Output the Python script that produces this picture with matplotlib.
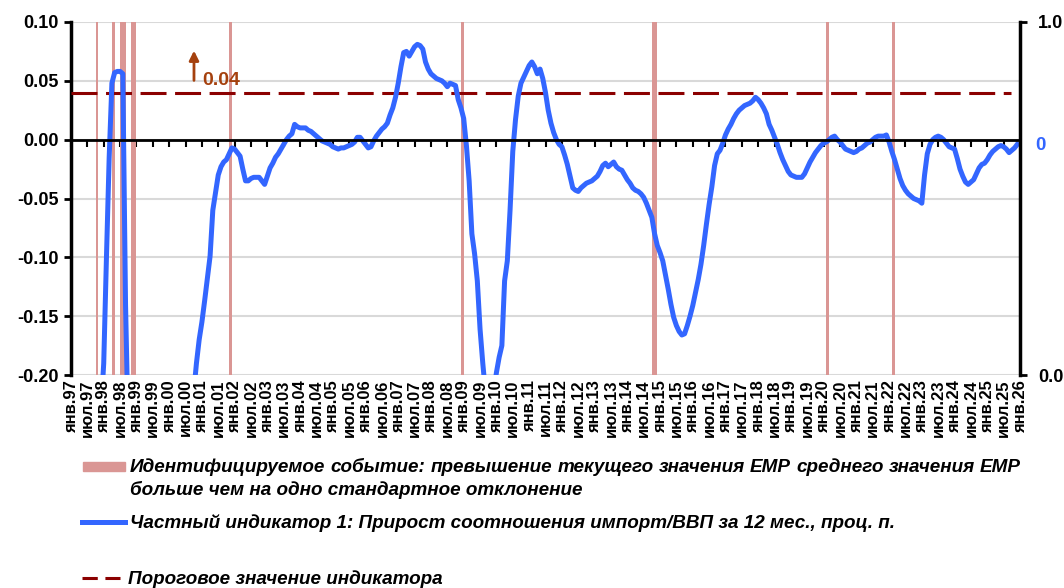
import matplotlib
matplotlib.use('Agg')
import matplotlib.pyplot as plt
from matplotlib.lines import Line2D
from matplotlib.patches import Rectangle

plt.rcParams['font.family'] = ['Liberation Sans', 'DejaVu Sans']
plt.rcParams['axes.unicode_minus'] = False

# monthly values, Jan 1997 .. Dec 2025 (one row per year)
imp_gdp = [
    -0.30, -0.30, -0.31, -0.31, -0.32, -0.32, -0.31, -0.30, -0.29, -0.28, -0.26, -0.23,  # 1997
    -0.19, -0.10, -0.015, 0.048, 0.057, 0.058, 0.058, 0.056, -0.14, -0.25, -0.30, -0.32,  # 1998
    -0.33, -0.34, -0.34, -0.35, -0.35, -0.35, -0.34, -0.34, -0.33, -0.33, -0.32, -0.32,  # 1999
    -0.31, -0.30, -0.29, -0.28, -0.27, -0.26, -0.25, -0.24, -0.23, -0.215, -0.19, -0.17,  # 2000
    -0.155, -0.137, -0.118, -0.099, -0.06, -0.045, -0.03, -0.023, -0.019, -0.017, -0.012, -0.007,  # 2001
    -0.008, -0.011, -0.014, -0.025, -0.035, -0.035, -0.033, -0.032, -0.032, -0.032, -0.035, -0.038,  # 2002
    -0.031, -0.024, -0.020, -0.015, -0.012, -0.008, -0.004, 0.000, 0.003, 0.005, 0.013, 0.011,  # 2003
    0.010, 0.010, 0.010, 0.008, 0.007, 0.005, 0.003, 0.001, -0.001, -0.002, -0.003, -0.004,  # 2004
    -0.006, -0.007, -0.008, -0.007, -0.007, -0.006, -0.005, -0.004, -0.002, 0.002, 0.002, -0.001,  # 2005
    -0.004, -0.007, -0.006, -0.001, 0.003, 0.006, 0.009, 0.011, 0.014, 0.021, 0.027, 0.036,  # 2006
    0.048, 0.062, 0.074, 0.075, 0.071, 0.075, 0.079, 0.081, 0.080, 0.077, 0.066, 0.060,  # 2007
    0.056, 0.054, 0.052, 0.051, 0.050, 0.048, 0.045, 0.048, 0.047, 0.046, 0.034, 0.027,  # 2008
    0.018, -0.005, -0.035, -0.080, -0.097, -0.120, -0.161, -0.190, -0.215, -0.230, -0.230, -0.215,  # 2009
    -0.198, -0.185, -0.175, -0.120, -0.103, -0.060, -0.010, 0.017, 0.037, 0.048, 0.053, 0.058,  # 2010
    0.063, 0.066, 0.062, 0.056, 0.060, 0.052, 0.040, 0.025, 0.014, 0.006, 0.000, -0.004,  # 2011
    -0.006, -0.013, -0.021, -0.031, -0.041, -0.043, -0.044, -0.041, -0.039, -0.037, -0.036, -0.035,  # 2012
    -0.033, -0.031, -0.027, -0.022, -0.020, -0.023, -0.021, -0.019, -0.023, -0.025, -0.026, -0.030,  # 2013
    -0.034, -0.037, -0.041, -0.043, -0.044, -0.046, -0.049, -0.054, -0.060, -0.066, -0.080, -0.090,  # 2014
    -0.096, -0.103, -0.115, -0.127, -0.140, -0.151, -0.158, -0.163, -0.166, -0.165, -0.158, -0.150,  # 2015
    -0.141, -0.130, -0.119, -0.106, -0.090, -0.072, -0.055, -0.040, -0.022, -0.012, -0.009, -0.003,  # 2016
    0.004, 0.009, 0.013, 0.018, 0.022, 0.025, 0.027, 0.029, 0.030, 0.031, 0.033, 0.036,  # 2017
    0.034, 0.031, 0.027, 0.022, 0.013, 0.008, 0.002, -0.004, -0.011, -0.017, -0.022, -0.027,  # 2018
    -0.030, -0.031, -0.032, -0.032, -0.032, -0.029, -0.024, -0.019, -0.015, -0.011, -0.008, -0.005,  # 2019
    -0.003, -0.002, 0.000, 0.002, 0.003, 0.000, -0.002, -0.005, -0.008, -0.009, -0.010, -0.011,  # 2020
    -0.010, -0.008, -0.007, -0.005, -0.003, -0.002, 0.000, 0.002, 0.003, 0.003, 0.003, 0.004,  # 2021
    -0.002, -0.010, -0.017, -0.025, -0.033, -0.039, -0.043, -0.046, -0.048, -0.050, -0.051, -0.052,  # 2022
    -0.054, -0.030, -0.012, -0.004, 0.000, 0.002, 0.003, 0.002, 0.000, -0.003, -0.006, -0.007,  # 2023
    -0.008, -0.016, -0.025, -0.031, -0.036, -0.038, -0.036, -0.034, -0.029, -0.024, -0.021, -0.020,  # 2024
    -0.017, -0.013, -0.010, -0.008, -0.006, -0.005, -0.006, -0.008, -0.011, -0.009, -0.007, -0.004,  # 2025
]

# months flagged as events (EMP > mean + 1 std)
events = ['1997-10', '1998-04', '1998-07', '1998-08', '1998-11', '1998-12',
          '2001-11', '2008-12', '2014-10', '2014-11', '2020-02', '2022-02']

threshold = 0.04
last_label = '0'

tick_labels = [f'{m}.{y % 100:02d}' for y in range(1997, 2027) for m in ('янв', 'июл')][:-1]

legend_event = ['Идентифицируемое событие: превышение текущего значения EMP среднего значения EMP',
                'больше чем на одно стандартное отклонение']
legend_line = 'Частный индикатор 1: Прирост соотношения импорт/ВВП за 12 мес., проц. п.'
legend_thr = 'Пороговое значение индикатора'

BLUE = '#3366FF'
PINK = '#DA9694'
DARKRED = '#8B0000'
ARROW = '#A5410E'

W, H = 1064, 588


def month_idx(s):
    return (int(s[:4]) - 1997) * 12 + int(s[5:7]) - 1


fig = plt.figure(figsize=(W / 100, H / 100), dpi=100)
ax = fig.add_axes([71 / W, 1 - 375 / H, 949 / W, 353 / H])
ax.set_xlim(0, 348)
ax.set_ylim(-0.2, 0.1)

for e in events:
    m = month_idx(e)
    ax.axvspan(m, m + 1, color=PINK, lw=0, zorder=1)

yt = [-0.2, -0.15, -0.1, -0.05, 0, 0.05, 0.1]
ax.set_yticks(yt)
ax.set_yticklabels([f'{v:.2f}' for v in yt], fontsize=13, fontweight='bold')
ax.grid(axis='y', color='#D9D9D9', lw=1.5, zorder=0)
ax.set_axisbelow(True)

ax.plot(range(len(imp_gdp)), imp_gdp, color=BLUE, lw=3.6, zorder=5, solid_joinstyle='round')
ax.axhline(threshold, xmin=0, xmax=0.99, color=DARKRED, lw=2.2, dashes=(8.5, 2.8), zorder=4)

# zero axis with half-year ticks
ax.spines['bottom'].set_position(('data', 0))
ax.spines['bottom'].set_linewidth(2)
ax.spines['bottom'].set_zorder(6)
ax.set_xticks(range(0, 349, 6))
ax.tick_params(axis='x', direction='out', length=5, width=1.5, labelbottom=False)
ax.spines['top'].set_visible(False)
ax.spines['right'].set_visible(False)
ax.spines['left'].set_linewidth(2.5)
ax.tick_params(axis='y', direction='out', length=5, width=2, pad=4, colors='black')

sec = ax.secondary_xaxis(0.0)
sec.set_xticks(range(0, 349, 6), tick_labels, fontsize=12, fontweight='bold', rotation=90)
sec.tick_params(length=0, pad=3)
sec.spines['bottom'].set_visible(False)

ax2 = ax.twinx()
ax2.set_ylim(0, 1)
ax2.set_yticks([0, 1])
ax2.set_yticklabels(['0.0', '1.0'], fontsize=13, fontweight='bold')
ax2.tick_params(axis='y', direction='out', length=5, width=2, pad=8)
for s in ['top', 'bottom', 'left']:
    ax2.spines[s].set_visible(False)
ax2.spines['right'].set_linewidth(2.5)

fig.text(1040 / W, 1 - 146 / H, last_label, color=BLUE, fontsize=13.5, fontweight='bold',
         ha='center', va='center')

ax.annotate('', xy=(45.1, 0.078), xytext=(45.1, 0.048),
            arrowprops=dict(arrowstyle='-|>', color=ARROW, lw=2, mutation_scale=14))
ax.text(48.2, 0.0505, f'{threshold:.2f}', color=ARROW, fontsize=14, fontweight='bold',
        va='center')

# legend drawn by hand below the axes
leg_font = dict(fontsize=13.6, fontweight='bold', style='italic', va='center')
fig.add_artist(Rectangle((83 / W, 1 - 471 / H), 42 / W, 9 / H, color=PINK,
                         transform=fig.transFigure))
fig.add_artist(Line2D([82 / W, 125 / W], [1 - 522 / H] * 2, color=BLUE, lw=3.6,
                      transform=fig.transFigure))
fig.add_artist(Line2D([82 / W, 120 / W], [1 - 578 / H] * 2, color=DARKRED, lw=2.2,
                      dashes=(5, 2.5), transform=fig.transFigure))

words = legend_event[0].split()
texts = [fig.text(130 / W, 1 - 467 / H, w, **leg_font) for w in words]
fig.canvas.draw()
r = fig.canvas.get_renderer()
widths = [t.get_window_extent(r).width for t in texts]
gap = (1021 - 130 - sum(widths)) / (len(words) - 1)
x = 130
for t, w in zip(texts, widths):
    t.set_x(x / W)
    x += w + gap

fig.text(130 / W, 1 - 490 / H, legend_event[1], **leg_font)
fig.text(130 / W, 1 - 523 / H, legend_line, **leg_font)
fig.text(128 / W, 1 - 579 / H, legend_thr, **leg_font)

fig.savefig('out.png', dpi=100)
